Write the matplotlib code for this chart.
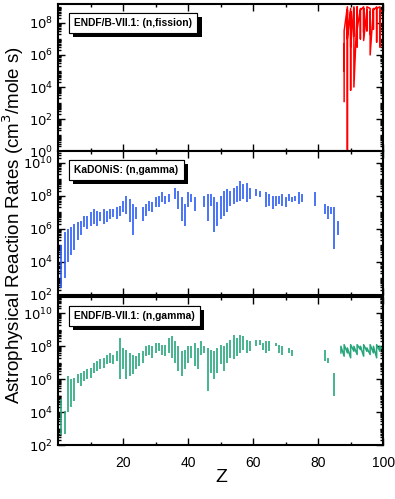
import numpy as np
import matplotlib
matplotlib.use("Agg")
import matplotlib.pyplot as plt
import matplotlib.ticker as mticker
import matplotlib.patheffects as pe

plt.rcParams['font.family'] = ['Liberation Sans', 'DejaVu Sans']

# ENDF/B-VII.1 (n,fission): rates (log10) along Z, several isotopes per element
fis_z = [88, 88, 88, 88, 89, 89, 89, 89, 90, 90, 90, 90, 91, 91, 91, 91,
         92, 92, 92, 92, 93, 93, 93, 94, 94, 94, 94, 95, 95, 95,
         96, 96, 96, 96, 97, 97, 97, 98, 98, 98, 99, 99, 99, 100]
fis_log = [3.1, 6.7, 5.0, 7.5, 9.0, 0.0, 8.8, 7.0, 8.9, 3.8, 8.7, 6.5, 9.0, 7.2, 8.9, 4.0,
           8.8, 6.5, 9.0, 7.6, 8.9, 7.0, 8.8, 9.0, 7.4, 8.9, 6.9, 8.8, 7.5, 9.0,
           8.9, 7.3, 8.7, 6.0, 8.9, 7.6, 8.8, 9.0, 6.8, 8.9, 9.0, 6.5, 8.7, 8.8]

# KaDoNiS (n,gamma): per element, lowest and highest isotope rate (log10)
kad_z = [1, 2, 3, 4, 5, 6, 7, 8, 9, 10, 11, 12, 13, 14, 15, 16, 17, 18, 19, 20,
         21, 22, 23, 24, 26, 27, 28, 29, 30, 31, 32, 33, 34, 36, 37, 38, 39, 40,
         41, 42, 45, 46, 47, 48, 49, 50, 51, 52, 53, 54, 55, 56, 57, 58, 59,
         61, 62, 64, 65, 66, 67, 68, 69, 70, 71, 72, 73, 74, 75, 79, 82, 83, 84, 85, 86]
kad_lo = [2.4, 3.0, 4.0, 4.4, 4.7, 5.3, 5.6, 6.1, 6.0, 6.2, 6.3, 6.2, 6.5, 6.3, 6.4, 6.6, 6.7, 6.6, 6.8, 7.0,
          6.9, 6.4, 5.6, 6.6, 6.5, 6.8, 7.1, 7.0, 7.3, 7.3, 7.6, 7.5, 7.6, 7.8, 7.2, 6.5, 6.2, 7.3,
          7.6, 7.1, 7.3, 6.5, 7.4, 5.8, 6.2, 6.6, 6.8, 7.0, 7.4, 7.5, 7.6, 7.7, 7.8, 7.6, 7.8,
          8.0, 7.9, 7.3, 7.4, 7.2, 7.4, 7.5, 7.4, 7.3, 7.7, 7.6, 7.7, 7.5, 7.6, 7.4, 6.9, 6.6, 6.9, 4.8, 5.6]
kad_hi = [5.0, 5.8, 6.0, 6.1, 6.3, 6.4, 6.5, 6.8, 6.8, 7.0, 7.2, 7.1, 7.0, 7.2, 7.1, 7.2, 7.2, 7.3, 7.4, 7.7,
          8.0, 7.8, 7.5, 7.3, 7.3, 7.5, 7.7, 7.6, 7.9, 8.0, 8.2, 8.0, 8.1, 8.5, 8.3, 7.9, 7.5, 8.2,
          8.1, 7.9, 8.0, 8.1, 8.1, 7.9, 7.6, 8.0, 8.3, 8.4, 8.3, 8.5, 8.6, 8.9, 8.7, 8.8, 8.5,
          8.4, 8.3, 8.2, 8.1, 8.0, 8.0, 8.0, 8.1, 7.9, 8.1, 7.9, 8.0, 8.2, 8.1, 8.2, 7.5, 7.4, 7.3, 7.3, 6.5]

# ENDF/B-VII.1 (n,gamma): per element, lowest and highest isotope rate (log10)
endf_z = [1, 2, 3, 4, 5, 6, 7, 8, 9, 10, 11, 12, 13, 14, 15, 16, 17, 18, 19, 20,
          21, 22, 23, 24, 25, 26, 27, 28, 29, 30, 31, 32, 33, 34, 35, 36, 37, 38, 39, 40,
          41, 42, 43, 44, 45, 46, 47, 48, 49, 50, 51, 52, 53, 54, 55, 56, 57, 58, 59,
          61, 62, 63, 64, 65, 67, 68, 69, 71, 72, 82, 83, 85]
endf_lo = [2.6, 2.7, 4.0, 4.3, 4.7, 5.8, 5.6, 5.9, 6.0, 6.1, 6.4, 6.5, 6.6, 6.7, 6.9, 7.0, 6.9, 7.1, 6.0, 6.6,
           6.0, 6.2, 6.3, 6.6, 6.8, 7.0, 7.4, 7.5, 7.3, 7.6, 7.7, 7.5, 7.4, 7.6, 7.3, 7.0, 6.5, 6.2, 6.6, 7.0,
           7.3, 6.8, 6.6, 7.5, 7.6, 5.3, 6.4, 6.0, 6.4, 6.9, 6.5, 7.0, 7.3, 7.2, 7.4, 7.6, 7.8, 7.6, 7.7,
           8.0, 8.1, 7.8, 7.6, 7.7, 8.0, 7.6, 7.5, 7.6, 7.4, 7.1, 7.0, 5.0]
endf_hi = [4.8, 4.1, 6.2, 6.0, 6.1, 6.3, 6.4, 6.5, 6.6, 6.7, 7.0, 7.1, 7.2, 7.3, 7.5, 7.6, 7.5, 7.7, 8.5, 7.9,
           7.8, 7.6, 7.5, 7.4, 7.6, 7.7, 8.0, 8.1, 8.0, 8.2, 8.2, 8.1, 8.1, 8.5, 8.6, 8.3, 8.0, 7.7, 7.8, 8.0,
           8.0, 8.2, 7.9, 8.3, 8.0, 7.9, 7.8, 7.7, 7.9, 8.1, 8.0, 8.2, 8.4, 8.7, 8.5, 8.7, 8.6, 8.4, 8.3,
           8.4, 8.4, 8.2, 8.3, 8.3, 8.2, 8.1, 8.0, 7.9, 7.8, 7.8, 7.3, 6.4]
# heavy actinides, drawn as one connected line
endf_tail_z = [87, 87, 88, 88, 89, 89, 90, 90, 91, 91, 92, 92, 93, 93, 94, 94,
               95, 95, 96, 96, 97, 97, 98, 98, 99, 99, 100]
endf_tail_log = [7.6, 8.0, 7.4, 8.1, 7.6, 7.9, 7.3, 8.1, 7.7, 8.0, 7.5, 8.1, 7.8, 8.0, 7.4, 8.1,
                 7.7, 7.9, 7.5, 8.1, 7.6, 8.0, 7.3, 8.1, 7.7, 8.0, 7.8]

xticks = [20, 40, 60, 80, 100]
xminor = [10, 30, 50, 70, 90]

red = '#ff0000'
blue = '#2b5cf5'
green = '#27a57b'

fig = plt.figure(figsize=(3.95, 4.99), dpi=100)
left, width = 0.147, 0.823
ax1 = fig.add_axes([left, 0.697, width, 0.295])
ax2 = fig.add_axes([left, 0.409, width, 0.288])
ax3 = fig.add_axes([left, 0.108, width, 0.297])

ax1.plot(fis_z, 10.0 ** np.array(fis_log), color=red, lw=1.1)
ax2.vlines(kad_z, 10.0 ** np.array(kad_lo), 10.0 ** np.array(kad_hi), color=blue, lw=1.2)
ax3.vlines(endf_z, 10.0 ** np.array(endf_lo), 10.0 ** np.array(endf_hi), color=green, lw=1.2)
ax3.plot(endf_tail_z, 10.0 ** np.array(endf_tail_log), color=green, lw=1.1)

limits = [(1, 1.5e9), (1e2, 5e10), (1e2, 1e11)]
majors = [[1e0, 1e2, 1e4, 1e6, 1e8], [1e2, 1e4, 1e6, 1e8, 1e10], [1e2, 1e4, 1e6, 1e8, 1e10]]
labels = ['ENDF/B-VII.1: (n,fission)', 'KaDONiS: (n,gamma)', 'ENDF/B-VII.1: (n,gamma)']


def fmt(v, pos):
    return r'$10^{%d}$' % int(round(np.log10(v)))


for ax, lim, maj, lab in zip([ax1, ax2, ax3], limits, majors, labels):
    ax.set_yscale('log')
    ax.set_ylim(*lim)
    ax.set_xlim(0, 100)
    ax.yaxis.set_major_locator(mticker.FixedLocator(maj))
    ax.yaxis.set_major_formatter(mticker.FuncFormatter(fmt))
    ax.yaxis.set_minor_locator(mticker.LogLocator(base=10, subs=np.arange(1, 10), numticks=30))
    ax.yaxis.set_minor_formatter(mticker.NullFormatter())
    ax.xaxis.set_major_locator(mticker.FixedLocator(xticks))
    ax.xaxis.set_minor_locator(mticker.FixedLocator(xminor))
    ax.tick_params(which='both', direction='in', top=True, right=True, width=1.0)
    ax.tick_params(which='major', length=5, labelsize=9.5)
    ax.tick_params(which='minor', length=2.5)
    for s in ax.spines.values():
        s.set_linewidth(1.5)
    t = ax.text(0.05, 0.87, lab, transform=ax.transAxes, fontsize=7.4, fontweight='bold',
                va='center', ha='left',
                bbox=dict(boxstyle='square,pad=0.5', fc='white', ec='black', lw=0.8))
    t.get_bbox_patch().set_path_effects([
        pe.withSimplePatchShadow(offset=(3, -3), shadow_rgbFace='black', alpha=1.0),
        pe.Normal()])

ax1.tick_params(axis='x', labelbottom=False)
ax2.tick_params(axis='x', labelbottom=False)
ax3.tick_params(axis='x', labelsize=10, pad=8)

fig.text(0.034, 0.55, 'Astrophysical Reaction Rates (cm$^3$/mole s)', rotation=90,
         va='center', ha='center', fontsize=13.5)
fig.text(0.56, 0.043, 'Z', ha='center', va='center', fontsize=14)

fig.savefig('out.png', dpi=100)
